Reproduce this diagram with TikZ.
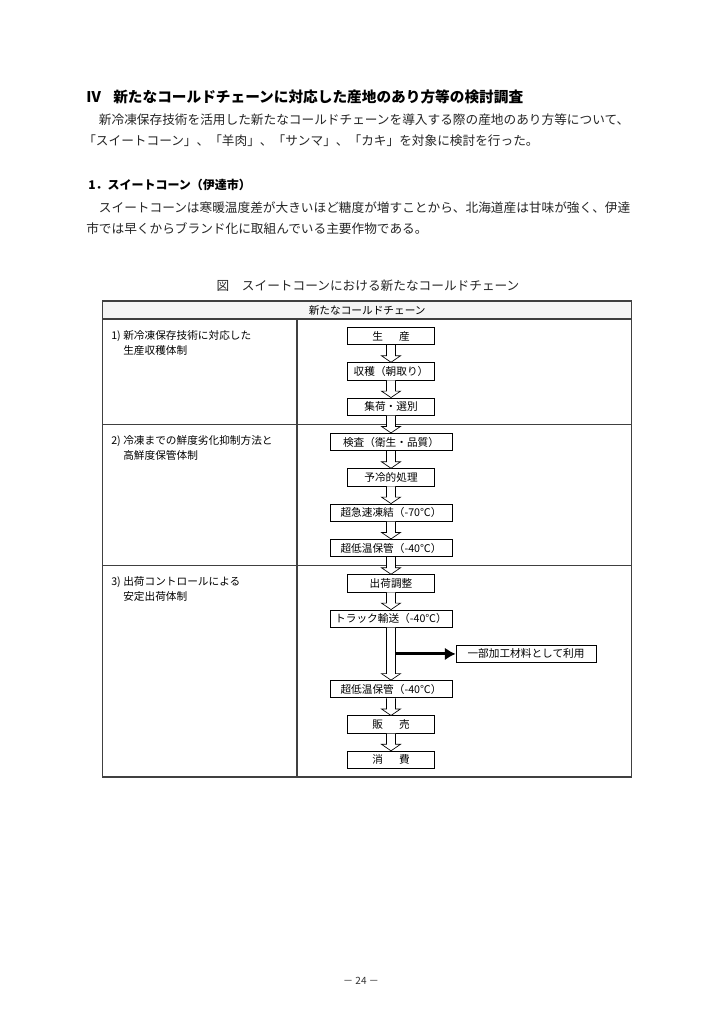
\documentclass[tikz,border=0pt]{standalone}
\usepackage{fontspec}
\newfontfamily\cjk{Noto Sans CJK JP}
\usetikzlibrary{positioning,arrows.meta,calc}

\newcommand{\hollowarr}[2]{%
  \draw[hollow] ($(#1.south)+(-4.5,0)$) -- ($(#2.north)+(-4.5,-6.5)$) -- ($(#2.north)+(-9.5,-6.5)$)
    -- (#2.north) -- ($(#2.north)+(9.5,-6.5)$) -- ($(#2.north)+(4.5,-6.5)$) -- ($(#1.south)+(4.5,0)$);}

\begin{document}
\begin{tikzpicture}[x=0.75pt, y=-0.75pt,
  bodytxt/.style={anchor=west, inner sep=0pt, text=black!85, font=\cjk\fontsize{9.5}{11}\selectfont},
  headtxt/.style={anchor=west, inner sep=0pt, font=\cjk\bfseries\fontsize{11}{13}\selectfont},
  subtxt/.style={anchor=west, inner sep=0pt, font=\cjk\bfseries\fontsize{9}{11}\selectfont},
  rowlabel/.style={anchor=north west, align=left, inner sep=0pt, font=\cjk\fontsize{8}{11.25}\selectfont},
  stepbox/.style={draw, fill=white, line width=0.6pt, minimum width=65.25pt, minimum height=13pt, inner sep=0pt, font=\cjk\fontsize{8}{9}\selectfont},
  widebox/.style={stepbox, minimum width=91.5pt},
  hollow/.style={draw, fill=white, line width=0.5pt},
  arr/.style={-{Latex[length=8pt, width=9.5pt]}, line width=2.2pt},
  frame/.style={draw=black!75, line width=0.9pt}
]
\fill[white] (0,0) rectangle (721,1024);
\useasboundingbox (0,0) rectangle (721,1024);

\node[headtxt] (roman) at (86,97) {Ⅳ};
\node[headtxt] (title) at (113,97) {新たなコールドチェーンに対応した産地のあり方等の検討調査};
\node[bodytxt] (p1a) at (86,120) {　新冷凍保存技術を活用した新たなコールドチェーンを導入する際の産地のあり方等について、};
\node[bodytxt] (p1b) at (83,141) {「スイートコーン」、「羊肉」、「サンマ」、「カキ」を対象に検討を行った。};
\node[subtxt] (sec) at (88,185) {1．スイートコーン（伊達市）};
\node[bodytxt] (p2a) at (86,208) {　スイートコーンは寒暖温度差が大きいほど糖度が増すことから、北海道産は甘味が強く、伊達};
\node[bodytxt] (p2b) at (86,229) {市では早くからブランド化に取組んでいる主要作物である。};
\node[bodytxt, anchor=center] (caption) at (368,286) {図　スイートコーンにおける新たなコールドチェーン};

\fill[black!4] (102.7,301) rectangle (631.7,319);
\draw[frame] (102.7,301) rectangle (631.7,777);
\draw[frame] (102.7,319) -- (631.7,319);
\draw[frame] (102.7,424.2) -- (631.7,424.2);
\draw[frame] (102.7,565.5) -- (631.7,565.5);
\draw[frame] (297,319) -- (297,777);
\node[font=\cjk\fontsize{8}{9}\selectfont] (head) at (367.2,310) {新たなコールドチェーン};

\node[rowlabel] (lab1) at (111,330) {\makebox[9pt][l]{1)}新冷凍保存技術に対応した\\\hspace*{9pt}生産収穫体制};
\node[rowlabel] (lab2) at (111,435.5) {\makebox[9pt][l]{2)}冷凍までの鮮度劣化抑制方法と\\\hspace*{9pt}高鮮度保管体制};
\node[rowlabel] (lab3) at (111,576.5) {\makebox[9pt][l]{3)}出荷コントロールによる\\\hspace*{9pt}安定出荷体制};

\node[stepbox] (prod) at (391,336) {生\hspace{1.5em}産};
\node[stepbox, below=12.9pt of prod] (harv) {収穫（朝取り）};
\node[stepbox, below=12.9pt of harv] (sort) {集荷・選別};
\node[widebox, below=12.9pt of sort] (insp) {検査（衛生・品質）};
\node[stepbox, below=12.9pt of insp] (cool) {予冷的処理};
\node[widebox, below=12.9pt of cool] (freeze) {超急速凍結（-70℃）};
\node[widebox, below=12.9pt of freeze] (store) {超低温保管（-40℃）};
\node[stepbox, below=12.9pt of store] (ship) {出荷調整};
\node[widebox, below=12.9pt of ship] (truck) {トラック輸送（-40℃）};
\node[widebox, below=39.3pt of truck] (store2) {超低温保管（-40℃）};
\node[stepbox, below=12.9pt of store2] (sale) {販\hspace{1.5em}売};
\node[stepbox, below=12.9pt of sale] (cons) {消\hspace{1.5em}費};
\node[stepbox, minimum width=105pt] (use) at ($(truck.south)!0.5!(store2.north)+(135,0)$) {一部加工材料として利用};

\hollowarr{prod}{harv}
\hollowarr{harv}{sort}
\hollowarr{sort}{insp}
\hollowarr{insp}{cool}
\hollowarr{cool}{freeze}
\hollowarr{freeze}{store}
\hollowarr{store}{ship}
\hollowarr{ship}{truck}
\hollowarr{truck}{store2}
\hollowarr{store2}{sale}
\hollowarr{sale}{cons}
\coordinate (branch) at ([xshift=3.375pt]truck.south |- use.west);
\draw[arr] (branch) -- (use.west);

\node[font=\cjk\fontsize{7.5}{9}\selectfont, text=black!80] (page) at (361,981) {－ 24 －};
\end{tikzpicture}
\end{document}
